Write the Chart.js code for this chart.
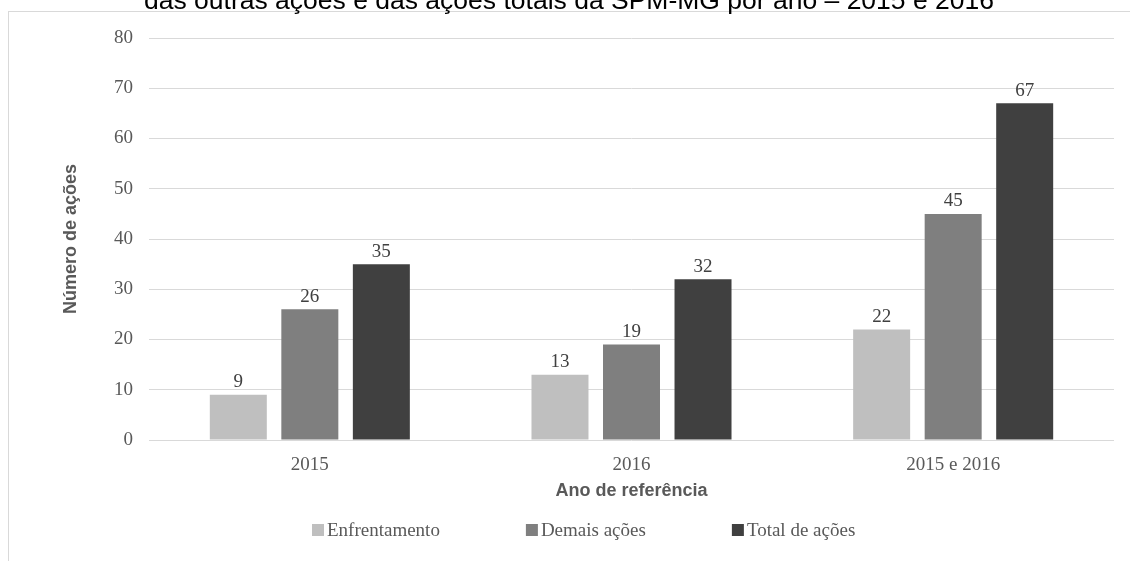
<!DOCTYPE html>
<html>
<head>
  <title>Ações SPM-MG</title>
  <script src="https://cdn.jsdelivr.net/npm/chart.js"></script>
  <style>
    html, body { margin: 0; padding: 0; background: #fff; overflow: hidden; }
    #wrap { width: 1130px; height: 561px; position: relative; }
  </style>
</head>
<body>
  <div id="wrap"><canvas id="acoesChart" width="1130" height="561"></canvas></div>

  <script>
    // data
    const categories = ['2015', '2016', '2015 e 2016'];
    const enfrentamento = [9, 13, 22];
    const demaisAcoes = [26, 19, 45];
    const totalAcoes = [35, 32, 67];
    const seriesNames = ['Enfrentamento', 'Demais ações', 'Total de ações'];
    const seriesColors = ['#bfbfbf', '#7f7f7f', '#404040'];
    const titleText = 'das outras ações e das ações totais da SPM-MG por ano – 2015 e 2016';

    const serif = '"Liberation Serif", "Times New Roman", serif';
    const sans = '"Liberation Sans", Arial, sans-serif';

    // frame and the cut-off title line at the top
    const framePlugin = {
      id: 'frame',
      beforeDraw(chart) {
        const ctx = chart.ctx;
        ctx.save();
        ctx.strokeStyle = '#d9d9d9';
        ctx.lineWidth = 1;
        ctx.strokeRect(8.5, 11.5, 1200, 700);
        ctx.fillStyle = '#000';
        ctx.font = '26.5px ' + sans;
        ctx.textAlign = 'center';
        ctx.textBaseline = 'alphabetic';
        ctx.fillText(titleText, 569, 9);
        ctx.restore();
      }
    };

    // numbers above the bars
    const valueLabels = {
      id: 'valueLabels',
      afterDatasetsDraw(chart) {
        const ctx = chart.ctx;
        ctx.save();
        ctx.font = '19px ' + serif;
        ctx.fillStyle = '#404040';
        ctx.textAlign = 'center';
        ctx.textBaseline = 'bottom';
        chart.data.datasets.forEach((ds, i) => {
          chart.getDatasetMeta(i).data.forEach((bar, j) => {
            ctx.fillText(ds.data[j], bar.x, bar.y - 3);
          });
        });
        ctx.restore();
      }
    };

    // legend row under the axis title
    const bottomLegend = {
      id: 'bottomLegend',
      afterDraw(chart) {
        const ctx = chart.ctx;
        ctx.save();
        ctx.font = '19px ' + serif;
        ctx.textBaseline = 'middle';
        let x = 312;
        const y = 530;
        chart.data.datasets.forEach(ds => {
          ctx.fillStyle = ds.backgroundColor;
          ctx.fillRect(x, y - 6, 12, 12);
          ctx.fillStyle = '#595959';
          ctx.fillText(ds.label, x + 15, y + 1);
          x += 15 + ctx.measureText(ds.label).width + 86;
        });
        ctx.restore();
      }
    };

    new Chart(document.getElementById('acoesChart'), {
      type: 'bar',
      data: {
        labels: categories,
        datasets: [
          { label: seriesNames[0], data: enfrentamento, backgroundColor: seriesColors[0] },
          { label: seriesNames[1], data: demaisAcoes, backgroundColor: seriesColors[1] },
          { label: seriesNames[2], data: totalAcoes, backgroundColor: seriesColors[2] }
        ]
      },
      options: {
        responsive: false,
        animation: false,
        categoryPercentage: 0.667,
        barPercentage: 0.797,
        layout: { padding: { left: 54, right: 16, top: 38, bottom: 59 } },
        plugins: {
          legend: { display: false },
          tooltip: { enabled: false }
        },
        scales: {
          x: {
            grid: { display: false, drawTicks: false },
            border: { display: false },
            ticks: { color: '#595959', font: { family: serif, size: 19 }, padding: 14 },
            title: {
              display: true, text: 'Ano de referência', color: '#595959',
              font: { family: sans, size: 18, weight: 'bold' }, padding: { top: 0, bottom: 0 }
            },
            afterFit(axis) { axis.height = 62; }
          },
          y: {
            min: 0, max: 80,
            grid: { color: '#d9d9d9', drawTicks: false },
            border: { display: false },
            ticks: { stepSize: 10, color: '#595959', font: { family: serif, size: 19 }, padding: 16 },
            title: {
              display: true, text: 'Número de ações', color: '#595959',
              font: { family: sans, size: 18, weight: 'bold' }, padding: { top: 6, bottom: 0 }
            },
            afterFit(axis) { axis.width = 95; }
          }
        }
      },
      plugins: [framePlugin, valueLabels, bottomLegend]
    });
  </script>
</body>
</html>
